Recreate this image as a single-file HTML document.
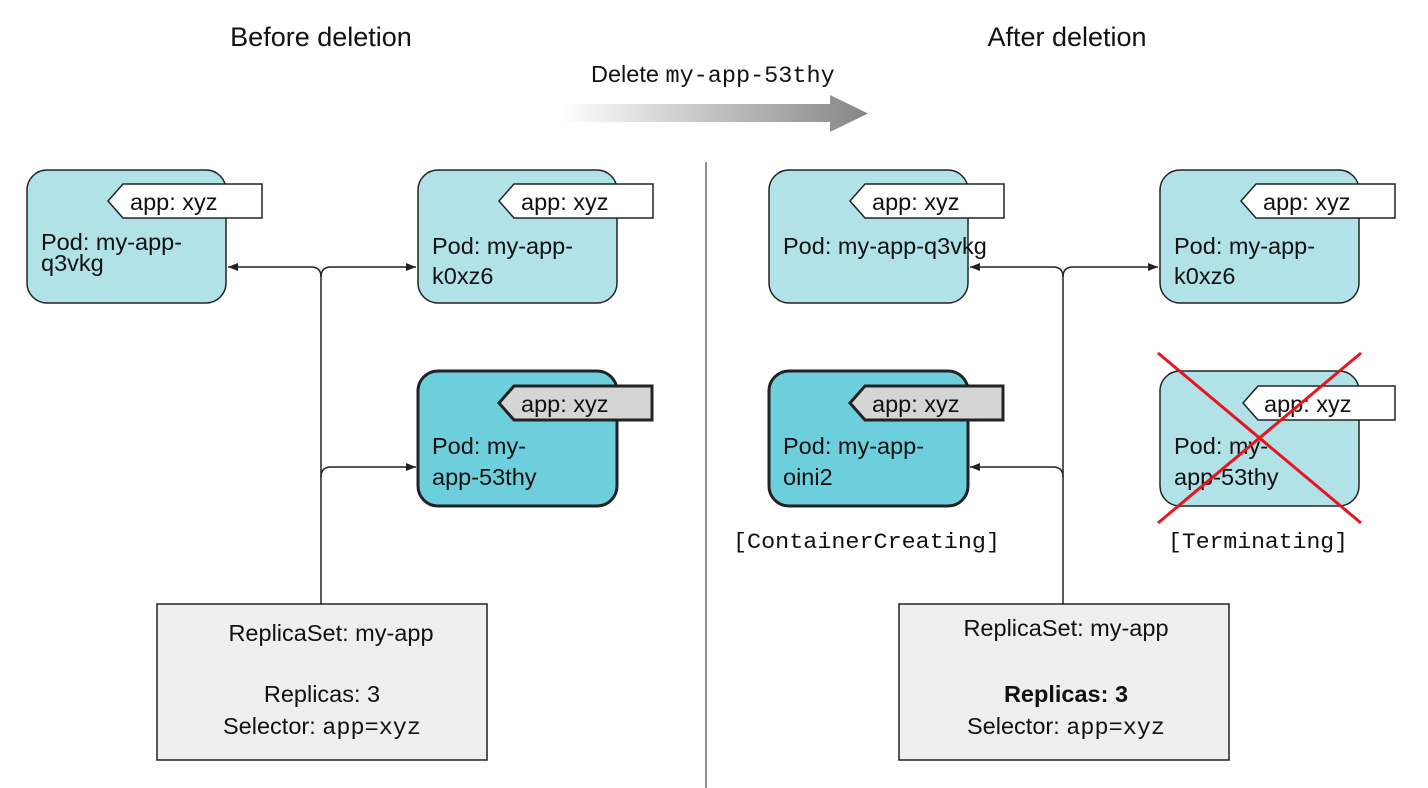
<!DOCTYPE html>
<html><head><meta charset="utf-8"><style>
html,body{margin:0;padding:0;background:#fff;}
svg{display:block;}
text{font-family:"Liberation Sans",Arial,sans-serif;fill:#111;}
.m{font-family:"Liberation Mono","Courier New",monospace;}
</style></head><body>
<svg width="1428" height="788" viewBox="0 0 1428 788" xmlns="http://www.w3.org/2000/svg">
<defs>
<linearGradient id="g" x1="0" x2="1" y1="0" y2="0">
<stop offset="0" stop-color="#ffffff"/><stop offset="1" stop-color="#858585"/>
</linearGradient>
<marker id="ah" viewBox="0 0 10 10" refX="10" refY="5" markerWidth="10" markerHeight="10" markerUnits="userSpaceOnUse" orient="auto">
<path d="M0,1 L10,5 L0,9 z" fill="#222"/>
</marker>
</defs>

<text x="321" y="46" font-size="27" text-anchor="middle">Before deletion</text>
<text x="1067" y="46" font-size="27" text-anchor="middle">After deletion</text>
<text x="591" y="82" font-size="23.5">Delete <tspan class="m" font-size="23.5">my-app-53thy</tspan></text>
<path d="M560,104 H830 V95 L868,113.5 L830,132 V122 H560 z" fill="url(#g)"/>

<line x1="706" y1="162" x2="706" y2="788" stroke="#555" stroke-width="1.3"/>

<g font-size="23.5">
<rect x="27" y="170" width="199" height="133" rx="20" fill="#b0e2e7" stroke="#222" stroke-width="1.5"/>
<polygon points="108,201 123,184 262,184 262,218 123,218" fill="#fff" stroke="#222" stroke-width="1.5"/>
<text x="130" y="210">app: xyz</text>
<text x="41" y="250">Pod: my-app-</text>
<text x="41" y="271">q3vkg</text>

<rect x="418" y="170" width="199" height="133" rx="20" fill="#b0e2e7" stroke="#222" stroke-width="1.5"/>
<polygon points="499,201 514,184 653,184 653,218 514,218" fill="#fff" stroke="#222" stroke-width="1.5"/>
<text x="521" y="210">app: xyz</text>
<text x="432" y="254">Pod:  my-app-</text>
<text x="432" y="284">k0xz6</text>

<rect x="418" y="371" width="199" height="135" rx="20" fill="#6ecfdc" stroke="#222" stroke-width="3"/>
<polygon points="499,403 514,386 652,386 652,420 514,420" fill="#d5d5d5" stroke="#222" stroke-width="3"/>
<text x="521" y="412">app: xyz</text>
<text x="432" y="454">Pod: my-</text>
<text x="432" y="485">app-53thy</text>

<path d="M321,604 V277 Q321,267 311,267 H228" fill="none" stroke="#222" stroke-width="1.5" marker-end="url(#ah)"/>
<path d="M321,277 Q321,267 331,267 H416" fill="none" stroke="#222" stroke-width="1.5" marker-end="url(#ah)"/>
<path d="M321,477 Q321,467 331,467 H416" fill="none" stroke="#222" stroke-width="1.5" marker-end="url(#ah)"/>

<rect x="157" y="604" width="330" height="156" fill="#efefef" stroke="#222" stroke-width="1.5"/>
<text x="331" y="641" text-anchor="middle">ReplicaSet: my-app</text>
<text x="322" y="702" text-anchor="middle">Replicas: 3</text>
<text x="322" y="734" text-anchor="middle">Selector: <tspan class="m">app=xyz</tspan></text>
</g>

<g font-size="23.5">
<rect x="769" y="170" width="199" height="133" rx="20" fill="#b0e2e7" stroke="#222" stroke-width="1.5"/>
<polygon points="850,201 865,184 1004,184 1004,218 865,218" fill="#fff" stroke="#222" stroke-width="1.5"/>
<text x="872" y="210">app: xyz</text>
<text x="783" y="254">Pod: my-app-q3vkg</text>

<rect x="1160" y="170" width="199" height="133" rx="20" fill="#b0e2e7" stroke="#222" stroke-width="1.5"/>
<polygon points="1241,201 1256,184 1395,184 1395,218 1256,218" fill="#fff" stroke="#222" stroke-width="1.5"/>
<text x="1263" y="210">app: xyz</text>
<text x="1174" y="254">Pod:  my-app-</text>
<text x="1174" y="284">k0xz6</text>

<rect x="769" y="371" width="199" height="135" rx="20" fill="#6ecfdc" stroke="#222" stroke-width="3"/>
<polygon points="850,403 865,386 1003,386 1003,420 865,420" fill="#d5d5d5" stroke="#222" stroke-width="3"/>
<text x="872" y="412">app: xyz</text>
<text x="783" y="454">Pod: my-app-</text>
<text x="783" y="485">oini2</text>
<text class="m" x="733" y="548" font-size="22" textLength="267" lengthAdjust="spacingAndGlyphs" fill="#333">[ContainerCreating]</text>

<rect x="1160" y="371" width="199" height="135" rx="20" fill="#b0e2e7" stroke="#222" stroke-width="1.5"/>
<polygon points="1243,403 1258,386 1395,386 1395,420 1258,420" fill="#fff" stroke="#222" stroke-width="1.5"/>
<text x="1264" y="412">app: xyz</text>
<text x="1174" y="454">Pod: my-</text>
<text x="1174" y="485">app-53thy</text>
<line x1="1158" y1="353" x2="1361" y2="523" stroke="#e8141e" stroke-width="3"/>
<line x1="1361" y1="353" x2="1158" y2="523" stroke="#e8141e" stroke-width="3"/>
<text class="m" x="1168" y="548" font-size="22" textLength="180" lengthAdjust="spacingAndGlyphs" fill="#333">[Terminating]</text>

<path d="M1063,604 V277 Q1063,267 1053,267 H970" fill="none" stroke="#222" stroke-width="1.5" marker-end="url(#ah)"/>
<path d="M1063,277 Q1063,267 1073,267 H1158" fill="none" stroke="#222" stroke-width="1.5" marker-end="url(#ah)"/>
<path d="M1063,477 Q1063,467 1053,467 H970" fill="none" stroke="#222" stroke-width="1.5" marker-end="url(#ah)"/>

<rect x="899" y="604" width="330" height="156" fill="#efefef" stroke="#222" stroke-width="1.5"/>
<text x="1066" y="636" text-anchor="middle">ReplicaSet: my-app</text>
<text x="1066" y="702" text-anchor="middle" font-weight="bold">Replicas: 3</text>
<text x="1066" y="734" text-anchor="middle">Selector: <tspan class="m">app=xyz</tspan></text>
</g>
</svg>
</body></html>
